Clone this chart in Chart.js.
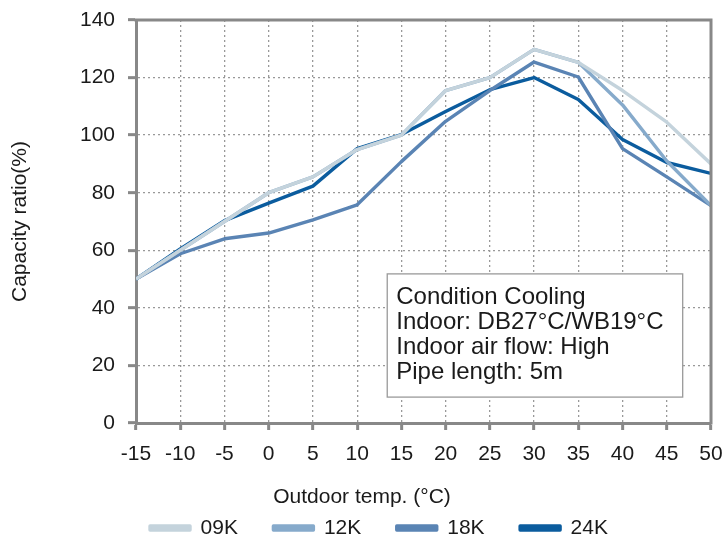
<!DOCTYPE html>
<html><head><meta charset="utf-8">
<script src="https://cdn.jsdelivr.net/npm/chart.js@4/dist/chart.umd.min.js"></script>
<style>html,body{margin:0;padding:0;background:#fff}#wrap{width:725px;height:543px}</style>
</head><body><div id="wrap"><canvas id="c" width="725" height="543"></canvas></div>
<script>
const temps = [-15,-10,-5,0,5,10,15,20,25,30,35,40,45,50];
const s09K = [50,60,70,80,85.5,95,100,115.5,120,129.8,125.3,115.5,104.5,90];
const s12K = [50,60,70,80,85.5,95,100,115.5,120,129.8,125.3,110.5,91,75.5];
const s18K = [50,58.8,64,66,70.6,75.8,90.8,104.8,115.5,125.4,120.2,95.3,85.5,75.5];
const s24K = [50,60.5,70.3,76.4,82.3,95.3,100.2,108.2,115.8,120,112.4,98.5,90.5,86.7];
const seriesNames = ['09K','12K','18K','24K'];
const seriesColors = ['#c4d3dc','#86aacb','#5a84b4','#0b5c9e'];
const yTicks = [0,20,40,60,80,100,120,140];
const xTitle = 'Outdoor temp. (°C)';
const yTitle = 'Capacity ratio(%)';
const noteLines = ['Condition Cooling','Indoor: DB27°C/WB19°C','Indoor air flow: High','Pipe length: 5m'];

const allSeries = [s09K,s12K,s18K,s24K];
const FONT = "'Liberation Sans', Arial, sans-serif";
const TXT = '#1a1a1a';
const datasets = allSeries.map((s,i)=>({
  label: seriesNames[i],
  data: temps.map((t,j)=>({x:t,y:s[j]})),
  borderColor: seriesColors[i],
  backgroundColor: seriesColors[i],
  borderWidth: 3.4,
  pointRadius: 0,
  tension: 0,
  borderJoinStyle: 'round'
}));

const framePlugin = {
  id:'frame',
  afterDraw(chart){
    const {ctx, chartArea:a, scales:{x,y}} = chart;
    ctx.save();
    ctx.strokeStyle='#888'; ctx.lineWidth=3;
    ctx.beginPath();
    ctx.moveTo(a.left-1.5, a.top); ctx.lineTo(a.right, a.top); ctx.lineTo(a.right, a.bottom+1.5);
    ctx.stroke();
    // note box
    const x0 = x.getPixelForValue(13.4), x1 = x.getPixelForValue(46.8);
    const y0 = y.getPixelForValue(51.8), y1 = y.getPixelForValue(9);
    ctx.fillStyle='#fff'; ctx.fillRect(x0,y0,x1-x0,y1-y0);
    ctx.strokeStyle='#9a9a9a'; ctx.lineWidth=1.3;
    ctx.strokeRect(x0,y0,x1-x0,y1-y0);
    ctx.fillStyle=TXT; ctx.font='24px '+FONT; ctx.textBaseline='middle'; ctx.textAlign='left';
    noteLines.forEach((t,i)=>ctx.fillText(t, x0+9, y0+23+i*25));
    // axis titles
    ctx.font='21px '+FONT; ctx.textAlign='center';
    ctx.fillText(xTitle, 362, 497);
    ctx.translate(20, (a.top+a.bottom)/2); ctx.rotate(-Math.PI/2);
    ctx.fillText(yTitle, 0, 0);
    ctx.restore();
  }
};

new Chart(document.getElementById('c'), {
  type:'line',
  data:{datasets},
  plugins:[framePlugin],
  options:{
    responsive:false, animation:false, devicePixelRatio:1,
    layout:{padding:{left:47,right:14,top:20,bottom:-5.5}},
    plugins:{
      legend:{position:'bottom', labels:{boxWidth:40, boxHeight:4, padding:35.5, color:TXT, font:{family:FONT,size:21}}},
      tooltip:{enabled:false}
    },
    scales:{
      x:{type:'linear', min:-15, max:50,
        ticks:{stepSize:5, color:TXT, font:{family:FONT,size:21}, padding:12, maxRotation:0},
        grid:{color:'#999', lineWidth:1.3, tickLength:7, tickColor:'#888', tickWidth:3},
        border:{color:'#888', width:3, dash:[2,3]},
        afterFit(s){ s.height = 59; s.paddingLeft = 0; s.paddingRight = 0; }
      },
      y:{min:0, max:140,
        afterBuildTicks(s){ s.ticks = yTicks.map(v=>({value:v})); },
        ticks:{color:TXT, font:{family:FONT,size:21}, padding:13},
        grid:{color:'#999', lineWidth:1.3, tickLength:8, tickColor:'#888', tickWidth:3},
        border:{color:'#888', width:3, dash:[2,3]},
        afterFit(s){ s.width = 89; s.paddingTop = 0; s.paddingBottom = 0; }
      }
    }
  }
});
</script></body></html>
